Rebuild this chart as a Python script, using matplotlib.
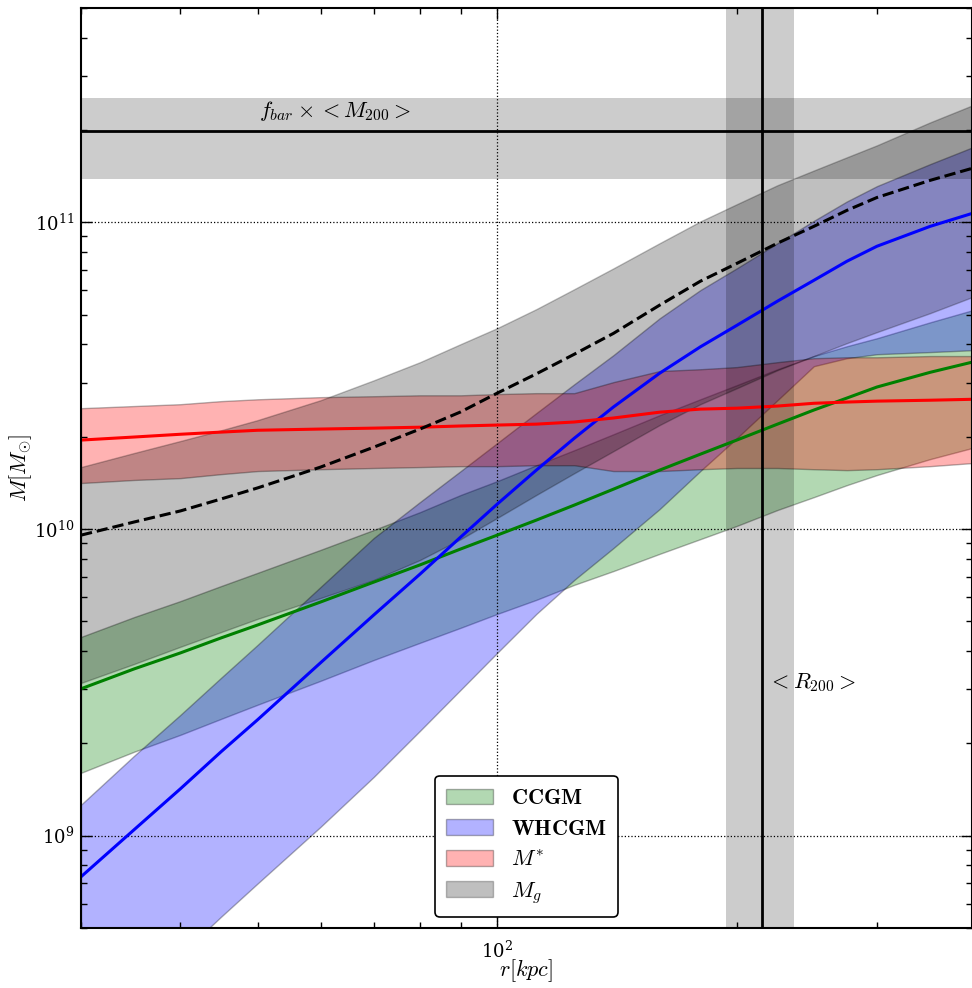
import numpy as np
import matplotlib
matplotlib.use('Agg')
import matplotlib.pyplot as plt
from matplotlib.ticker import NullFormatter

plt.rcParams['font.family'] = 'serif'
plt.rcParams['mathtext.fontset'] = 'cm'
plt.rcParams['axes.unicode_minus'] = False

# radius grid [kpc]
r_kpc = [30, 35, 40, 45, 50, 60, 70, 80, 90, 100, 112, 125, 140, 160, 180, 200,
         225, 250, 275, 300, 350, 395]

# log10(M / Msun)
ccgm_med = [9.479, 9.544, 9.596, 9.645, 9.687, 9.762, 9.827, 9.883, 9.935, 9.980, 10.029,
            10.078, 10.130, 10.192, 10.244, 10.290, 10.342, 10.388, 10.427, 10.463, 10.511, 10.544]
ccgm_hi = [9.648, 9.713, 9.765, 9.814, 9.857, 9.932, 9.997, 10.055, 10.111, 10.156, 10.208,
           10.257, 10.309, 10.371, 10.423, 10.469, 10.521, 10.564, 10.596, 10.622, 10.674, 10.713]
ccgm_lo = [9.205, 9.274, 9.329, 9.381, 9.427, 9.505, 9.573, 9.629, 9.678, 9.723, 9.769,
           9.818, 9.863, 9.919, 9.967, 10.010, 10.062, 10.104, 10.143, 10.176, 10.228, 10.264]

whcgm_med = [8.866, 9.020, 9.153, 9.274, 9.378, 9.564, 9.720, 9.853, 9.974, 10.081, 10.192,
             10.296, 10.398, 10.508, 10.594, 10.664, 10.743, 10.811, 10.873, 10.922, 10.987, 11.029]
whcgm_hi = [9.101, 9.261, 9.394, 9.515, 9.622, 9.811, 9.971, 10.088, 10.189, 10.280, 10.378,
            10.472, 10.567, 10.687, 10.779, 10.850, 10.932, 11.005, 11.068, 11.118, 11.190, 11.244]
whcgm_lo = [8.322, 8.479, 8.612, 8.736, 8.844, 9.029, 9.192, 9.342, 9.476, 9.596, 9.723,
            9.834, 9.938, 10.065, 10.189, 10.296, 10.420, 10.531, 10.557, 10.570, 10.577, 10.583]

mstar_med = [10.290, 10.300, 10.309, 10.316, 10.322, 10.326, 10.329, 10.332, 10.336, 10.339, 10.342,
             10.349, 10.362, 10.381, 10.391, 10.394, 10.401, 10.410, 10.414, 10.417, 10.420, 10.423]
mstar_hi = [10.394, 10.401, 10.407, 10.417, 10.423, 10.430, 10.433, 10.436, 10.436, 10.440, 10.443,
            10.443, 10.479, 10.515, 10.521, 10.528, 10.544, 10.557, 10.560, 10.560, 10.564, 10.564]
mstar_lo = [10.150, 10.160, 10.166, 10.179, 10.189, 10.195, 10.199, 10.202, 10.205, 10.205, 10.208,
            10.208, 10.189, 10.189, 10.195, 10.199, 10.199, 10.195, 10.192, 10.195, 10.205, 10.215]

mgas_med = [9.980, 10.023, 10.059, 10.098, 10.134, 10.202, 10.267, 10.326, 10.382, 10.443, 10.506,
            10.570, 10.638, 10.730, 10.808, 10.866, 10.932, 10.987, 11.039, 11.081, 11.137, 11.176]
mgas_hi = [10.202, 10.248, 10.287, 10.322, 10.355, 10.420, 10.485, 10.544, 10.603, 10.655, 10.717,
           10.782, 10.850, 10.932, 11.003, 11.059, 11.121, 11.169, 11.212, 11.251, 11.326, 11.381]
mgas_lo = [9.498, 9.560, 9.616, 9.664, 9.707, 9.775, 9.834, 9.899, 9.967, 10.036, 10.111,
           10.182, 10.254, 10.339, 10.407, 10.459, 10.518, 10.564, 10.606, 10.642, 10.704, 10.756]

# reference values
fbar_m200 = 1.98e11
fbar_m200_range = [1.38e11, 2.55e11]
r200 = 215.
r200_range = [194., 236.]

r = np.array(r_kpc)


def m(logm):
    return 10**np.array(logm)


fig = plt.figure(figsize=(9.72, 9.88), dpi=100)
ax = fig.add_axes([81/972., 60/988., 891/972., 920/988.])
ax.set_xscale('log')
ax.set_yscale('log')

ax.fill_between(r, m(ccgm_lo), m(ccgm_hi), facecolor='g',
                edgecolor='k', alpha=0.3, lw=1, label=r'$\mathbf{CCGM}$')
ax.fill_between(r, m(whcgm_lo), m(whcgm_hi), facecolor='b',
                edgecolor='k', alpha=0.3, lw=1, label=r'$\mathbf{WHCGM}$')
ax.fill_between(r, m(mstar_lo), m(mstar_hi), facecolor='r',
                edgecolor='k', alpha=0.3, lw=1, label=r'$M^{*}$')
ax.fill_between(r, m(mgas_lo), m(mgas_hi), facecolor='k',
                edgecolor='k', alpha=0.25, lw=1, label=r'$M_g$')

ax.plot(r, m(ccgm_med), color='g', lw=2.2)
ax.plot(r, m(whcgm_med), color='b', lw=2.2)
ax.plot(r, m(mstar_med), color='r', lw=2.2)
ax.plot(r, m(mgas_med), color='k', lw=2.2, ls='--')

ax.axhspan(fbar_m200_range[0], fbar_m200_range[1], color='k', alpha=0.2, lw=0)
ax.axhline(fbar_m200, color='k', lw=2)
ax.axvspan(r200_range[0], r200_range[1], color='k', alpha=0.2, lw=0)
ax.axvline(r200, color='k', lw=2)

ax.text(50.2, 2.3e11, r'$f_{bar}\times<M_{200}>$', fontsize=16, va='center', ha='left')
ax.text(219, 3.15e9, r'$<R_{200}>$', fontsize=16, va='center', ha='left')

ax.set_xlim(30, 395)
ax.set_ylim(5e8, 5e11)
ax.xaxis.set_minor_formatter(NullFormatter())
ax.grid(True, which='major', ls=':', color='k', lw=0.9)
ax.tick_params(which='both', direction='in', top=True, right=True, labelsize=13)
ax.tick_params(which='major', length=8, width=1)
ax.tick_params(which='minor', length=4, width=1)
ax.tick_params(axis='x', pad=9)
ax.tick_params(axis='y', pad=5)
for s in ax.spines.values():
    s.set_linewidth(1.5)

ax.set_xlabel(r'$r[kpc]$', fontsize=16, labelpad=-3)
ax.set_ylabel(r'$M[M_{\odot}]$', fontsize=16, labelpad=0)

leg = ax.legend(loc='lower center', fontsize=16, fancybox=True, framealpha=1,
                handlelength=2.1, handleheight=0.7, borderpad=0.5, labelspacing=0.4)
leg.get_frame().set_edgecolor('k')
leg.get_frame().set_linewidth(1.2)

fig.savefig('out.png', dpi=100)
